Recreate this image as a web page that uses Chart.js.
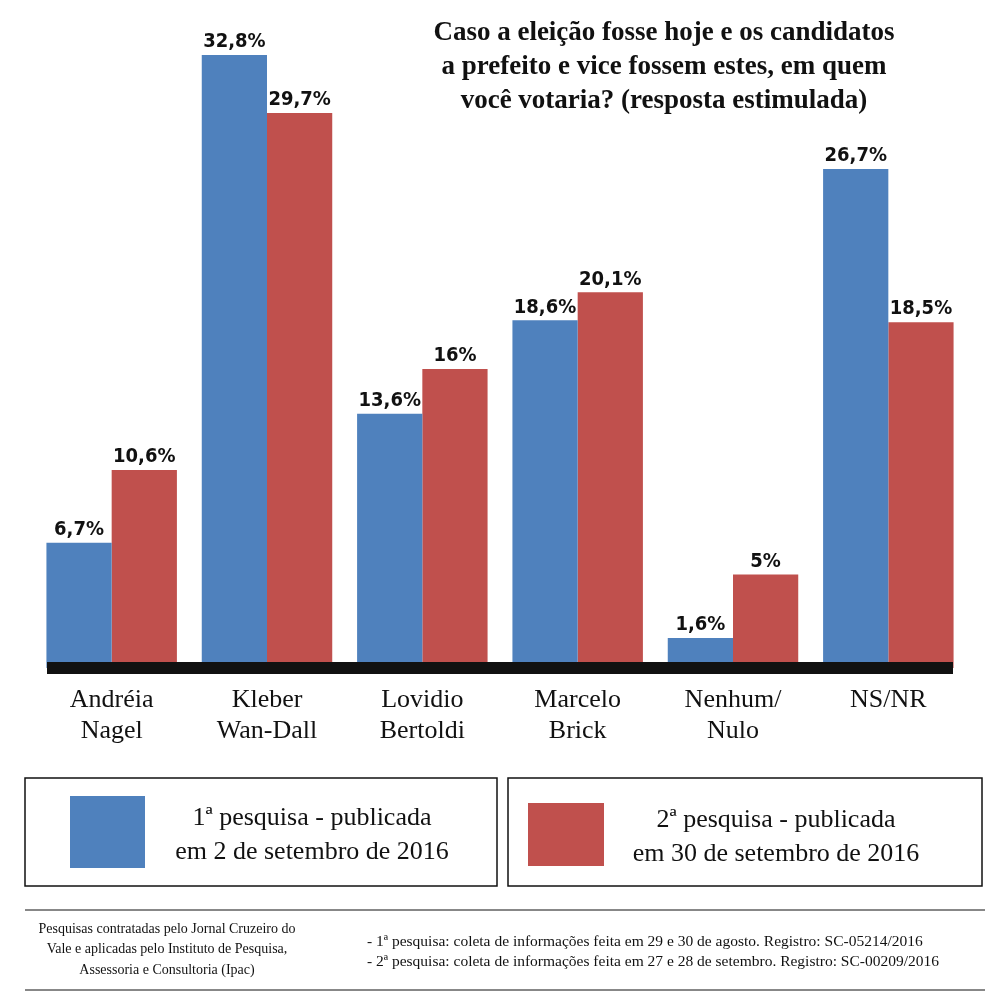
<!DOCTYPE html>
<html>
<head>
<meta charset="utf-8">
<script src="https://cdn.jsdelivr.net/npm/chart.js@4"></script>
<style>
body{margin:0;background:#fff;}
#wrap{position:relative;width:1000px;height:1000px;}
canvas{position:absolute;left:0;top:0;}
</style>
</head>
<body>
<div id="wrap"><canvas id="myChart" width="1000" height="1000"></canvas></div>
<script>
var categorias = [['Andréia','Nagel'],['Kleber','Wan-Dall'],['Lovidio','Bertoldi'],['Marcelo','Brick'],['Nenhum/','Nulo'],['NS/NR']];
var pesquisa1 = [6.7, 32.8, 13.6, 18.6, 1.6, 26.7];
var pesquisa2 = [10.6, 29.7, 16, 20.1, 5, 18.5];
var rotulos1 = ['6,7%','32,8%','13,6%','18,6%','1,6%','26,7%'];
var rotulos2 = ['10,6%','29,7%','16%','20,1%','5%','18,5%'];
var titulo = ['Caso a eleição fosse hoje e os candidatos','a prefeito e vice fossem estes, em quem','você votaria? (resposta estimulada)'];
var legenda1 = ['1ª pesquisa - publicada','em 2 de setembro de 2016'];
var legenda2 = ['2ª pesquisa - publicada','em 30 de setembro de 2016'];
var rodape1 = ['Pesquisas contratadas pelo Jornal Cruzeiro do','Vale e aplicadas pelo Instituto de Pesquisa,','Assessoria e Consultoria (Ipac)'];
var rodape2 = ['- 1ª pesquisa: coleta de informações feita em 29 e 30 de agosto. Registro: SC-05214/2016','- 2ª pesquisa: coleta de informações feita em 27 e 28 de setembro. Registro: SC-00209/2016'];

var azul = '#4F81BD', vermelho = '#C0504D';

function linhas(ctx, arr, x, y, h){
    for(var i = 0; i < arr.length; i++) ctx.fillText(arr[i], x, y + i*h);
}

var extras = {
    id: 'extras',
    afterDatasetsDraw: function(chart){
        var ctx = chart.ctx;
        var xs = chart.scales.x;
        var area = chart.chartArea;
        ctx.save();
        // barra preta da base
        ctx.fillStyle = '#111';
        ctx.fillRect(47, area.bottom - 6, 906, 12);

        // rótulos dos valores
        ctx.font = 'bold 20px "DejaVu Sans Condensed", "DejaVu Sans"';
        ctx.textAlign = 'center';
        ctx.textBaseline = 'bottom';
        ctx.fillStyle = '#111';
        var rot = [rotulos1, rotulos2];
        for(var d = 0; d < 2; d++){
            chart.getDatasetMeta(d).data.forEach(function(bar, i){
                ctx.fillText(rot[d][i], bar.x, bar.y - 3);
            });
        }

        // categorias
        ctx.font = '26px "Liberation Serif"';
        ctx.textBaseline = 'middle';
        categorias.forEach(function(c, i){
            linhas(ctx, c, xs.getPixelForValue(i), 700, 31);
        });

        // título
        ctx.font = 'bold 27px "Liberation Serif"';
        linhas(ctx, titulo, 664, 33, 34);

        // legenda
        ctx.strokeStyle = '#111';
        ctx.lineWidth = 1.5;
        ctx.strokeRect(25, 778, 472, 108);
        ctx.strokeRect(508, 778, 474, 108);
        ctx.fillStyle = azul;
        ctx.fillRect(70, 796, 75, 72);
        ctx.fillStyle = vermelho;
        ctx.fillRect(528, 803, 76, 63);
        ctx.fillStyle = '#111';
        ctx.font = '26px "Liberation Serif"';
        linhas(ctx, legenda1, 312, 818, 34);
        linhas(ctx, legenda2, 776, 820, 34);

        // rodapé
        ctx.lineWidth = 1;
        ctx.beginPath();
        ctx.moveTo(25, 910); ctx.lineTo(985, 910);
        ctx.moveTo(25, 990); ctx.lineTo(985, 990);
        ctx.stroke();
        ctx.font = '14px "Liberation Serif"';
        linhas(ctx, rodape1, 167, 929, 20.5);
        ctx.textAlign = 'left';
        ctx.font = '15.5px "Liberation Serif"';
        linhas(ctx, rodape2, 367, 942, 20);
        ctx.restore();
    }
};

new Chart(document.getElementById('myChart'), {
    type: 'bar',
    data: {
        labels: categorias,
        datasets: [
            { label: legenda1.join(' '), data: pesquisa1, backgroundColor: azul },
            { label: legenda2.join(' '), data: pesquisa2, backgroundColor: vermelho }
        ]
    },
    options: {
        responsive: false,
        animation: false,
        layout: { padding: { left: 34, right: 34, top: 0, bottom: 332 } },
        datasets: { bar: { categoryPercentage: 0.84, barPercentage: 1 } },
        scales: {
            x: { display: false },
            y: { display: false, min: 0, max: 35.74 }
        },
        plugins: { legend: { display: false }, tooltip: { enabled: false } }
    },
    plugins: [extras]
});
</script>
</body>
</html>
